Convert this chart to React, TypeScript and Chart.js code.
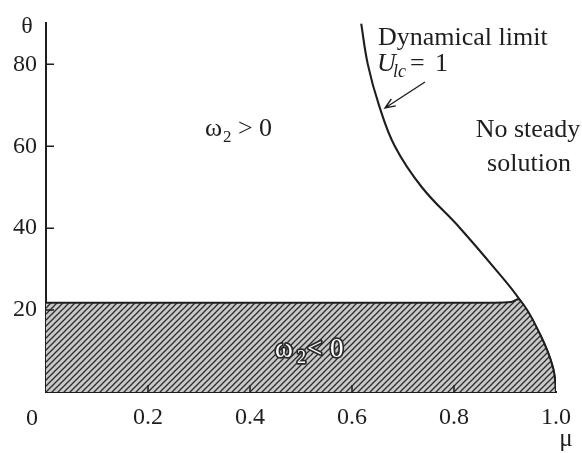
import { useEffect, useRef } from 'react';
import { Chart, registerables } from 'chart.js';

Chart.register(...registerables);

// Dynamical limit U_lc = 1, sampled as (μ, θ)
const limitMu = [0.618, 0.631, 0.653, 0.684, 0.737, 0.812, 0.881, 0.929, 0.969, 0.994, 1.0];
const limitTheta = [90, 80, 70, 60, 50, 40, 30, 22.5, 14, 6, 0];

// Upper boundary of the ω2 < 0 region
const negMu = [0, 0.88, 0.912, 0.929, 0.969, 0.994, 1.0];
const negTheta = [21.8, 21.8, 22.0, 22.5, 14, 6, 0];

const xTickValues = [0.2, 0.4, 0.6, 0.8, 1.0];
const yTickValues = [20, 40, 60, 80];

const SERIF = '"Liberation Serif", "DejaVu Serif", serif';
const INK = '#1e1e1e';

function hatchPattern(): CanvasPattern | string {
  const s = 6;
  const c = document.createElement('canvas');
  c.width = s;
  c.height = s;
  const g = c.getContext('2d');
  if (!g) return '#bbbbbb';
  g.fillStyle = '#c9c9c9';
  g.fillRect(0, 0, s, s);
  g.strokeStyle = '#2a2a2a';
  g.lineWidth = 1.25;
  g.beginPath();
  g.moveTo(-1, s + 1);
  g.lineTo(s + 1, -1);
  g.moveTo(-1, 1);
  g.lineTo(1, -1);
  g.moveTo(s - 1, s + 1);
  g.lineTo(s + 1, s - 1);
  g.stroke();
  return g.createPattern(c, 'repeat') || '#bbbbbb';
}

const annotations = {
  id: 'annotations',
  afterDraw(chart: any) {
    const { ctx } = chart;
    const xs = chart.scales.x;
    const ys = chart.scales.y;
    const X = (v: number) => xs.getPixelForValue(v);
    const Y = (v: number) => ys.getPixelForValue(v);
    ctx.save();

    // inward tick marks
    ctx.strokeStyle = INK;
    ctx.lineWidth = 1.5;
    ctx.beginPath();
    yTickValues.forEach((v) => {
      ctx.moveTo(X(0), Y(v));
      ctx.lineTo(X(0) + 8, Y(v));
    });
    xTickValues.slice(0, 4).forEach((v) => {
      ctx.moveTo(X(v), Y(0));
      ctx.lineTo(X(v), Y(0) - 7);
    });
    ctx.stroke();

    ctx.fillStyle = INK;
    ctx.textBaseline = 'alphabetic';

    // axis names and shared origin label
    ctx.font = `24px ${SERIF}`;
    ctx.textAlign = 'center';
    ctx.fillText('θ', 27, 33);
    ctx.fillText('0', 32, 425);
    ctx.font = `25px ${SERIF}`;
    ctx.fillText('μ', 566, 446);

    // Dynamical limit label
    ctx.textAlign = 'left';
    ctx.font = `26px ${SERIF}`;
    ctx.fillText('Dynamical limit', 378, 45);
    ctx.font = `italic 26px ${SERIF}`;
    ctx.fillText('U', 377, 71);
    ctx.font = `italic 18px ${SERIF}`;
    ctx.fillText('lc', 393, 77);
    ctx.font = `26px ${SERIF}`;
    ctx.fillText('=', 410, 71);
    ctx.fillText('1', 435, 71);

    // arrow pointing at the curve
    const tipX = 385, tipY = 108, tailX = 425, tailY = 82;
    ctx.lineWidth = 1.4;
    ctx.beginPath();
    ctx.moveTo(tailX, tailY);
    ctx.lineTo(tipX, tipY);
    const ang = Math.atan2(tipY - tailY, tipX - tailX);
    const hl = 11, hw = 0.38;
    ctx.moveTo(tipX - hl * Math.cos(ang - hw), tipY - hl * Math.sin(ang - hw));
    ctx.lineTo(tipX, tipY);
    ctx.lineTo(tipX - hl * Math.cos(ang + hw), tipY - hl * Math.sin(ang + hw));
    ctx.stroke();

    // region labels
    ctx.textAlign = 'center';
    ctx.font = `26px ${SERIF}`;
    ctx.fillText('No steady', 528, 137);
    ctx.fillText('solution', 529, 171);

    ctx.textAlign = 'left';
    ctx.font = `26px ${SERIF}`;
    ctx.fillText('ω', 205, 136);
    ctx.font = `17px ${SERIF}`;
    ctx.fillText('2', 223, 142);
    ctx.font = `26px ${SERIF}`;
    ctx.fillText('>', 238, 136);
    ctx.fillText('0', 259, 136);

    // outlined label inside the hatched region
    const outlined = (t: string, x: number, y: number, size: number) => {
      ctx.font = `${size}px ${SERIF}`;
      ctx.lineJoin = 'round';
      ctx.lineWidth = 3.5;
      ctx.strokeStyle = '#2a2a2a';
      ctx.strokeText(t, x, y);
      ctx.fillStyle = '#ffffff';
      ctx.fillText(t, x, y);
    };
    outlined('ω', 275, 357, 27);
    outlined('2', 297, 363, 18);
    outlined('<', 307, 357, 27);
    outlined('0', 330, 357, 27);

    ctx.restore();
  },
};

export default function App() {
  const ref = useRef<HTMLCanvasElement>(null);

  useEffect(() => {
    if (!ref.current) return;
    const chart = new Chart(ref.current, {
      type: 'line',
      data: {
        datasets: [
          {
            label: 'ω2 < 0',
            data: negMu.map((m, i) => ({ x: m, y: negTheta[i] })),
            borderColor: INK,
            borderWidth: 2,
            backgroundColor: hatchPattern(),
            fill: 'origin',
            pointRadius: 0,
            tension: 0.4,
          },
          {
            label: 'Ulc = 1',
            data: limitMu.map((m, i) => ({ x: m, y: limitTheta[i] })),
            borderColor: INK,
            borderWidth: 2.1,
            fill: false,
            pointRadius: 0,
            tension: 0.4,
          },
        ],
      },
      plugins: [annotations],
      options: {
        responsive: false,
        animation: false,
        layout: { padding: { left: 0, top: 12, right: 26, bottom: 0 } },
        plugins: { legend: { display: false }, tooltip: { enabled: false } },
        scales: {
          x: {
            type: 'linear',
            min: 0,
            max: 1,
            z: 1,
            afterBuildTicks: (s: any) => {
              s.ticks = xTickValues.map((v) => ({ value: v }));
            },
            afterFit: (s: any) => {
              s.height = 61;
            },
            grid: { display: false, drawTicks: false },
            border: { display: true, color: INK, width: 2 },
            ticks: {
              padding: 11,
              color: INK,
              font: { family: SERIF, size: 24 },
              callback: (v: any) => Number(v).toFixed(1),
            },
          },
          y: {
            type: 'linear',
            min: 0,
            max: 90,
            z: 1,
            afterBuildTicks: (s: any) => {
              s.ticks = yTickValues.map((v) => ({ value: v }));
            },
            afterFit: (s: any) => {
              s.width = 46;
            },
            grid: { display: false, drawTicks: false },
            border: { display: true, color: INK, width: 2 },
            ticks: {
              padding: 9,
              color: INK,
              font: { family: SERIF, size: 24 },
              callback: (v: any) => String(v),
            },
          },
        },
      },
    });
    return () => chart.destroy();
  }, []);

  return (
    <div style={{ position: 'absolute', left: 0, top: 0, width: 582, height: 453, background: '#fff' }}>
      <canvas ref={ref} width={582} height={453} style={{ display: 'block' }} />
    </div>
  );
}
